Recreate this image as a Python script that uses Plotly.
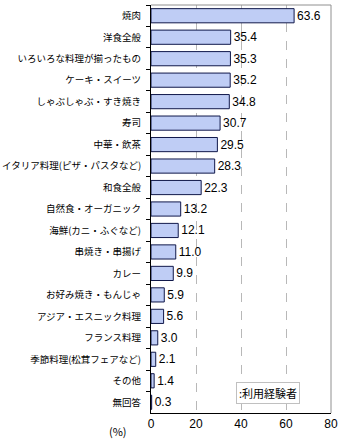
import plotly.graph_objects as go

categories = ["焼肉", "洋食全般", "いろいろな料理が揃ったもの", "ケーキ・スイーツ", "しゃぶしゃぶ・すき焼き",
              "寿司", "中華・飲茶", "イタリア料理(ピザ・パスタなど)", "和食全般", "自然食・オーガニック",
              "海鮮(カニ・ふぐなど)", "串焼き・串揚げ", "カレー", "お好み焼き・もんじゃ", "アジア・エスニック料理",
              "フランス料理", "季節料理(松茸フェアなど)", "その他", "無回答"]
values = [63.6, 35.4, 35.3, 35.2, 34.8, 30.7, 29.5, 28.3, 22.3, 13.2,
          12.1, 11.0, 9.9, 5.9, 5.6, 3.0, 2.1, 1.4, 0.3]
x_ticks = [0, 20, 40, 60, 80]
legend_text = ":利用経験者"

jp_font = "Noto Sans CJK JP"
num_font = "Liberation Sans"

fig = go.Figure()
fig.add_trace(go.Bar(
    y=categories, x=values, orientation="h",
    marker=dict(color="#bfcdf5", line=dict(color="#10184a", width=1)),
    width=0.66,
    text=[f"{v:.1f}" for v in values], textposition="outside",
    textfont=dict(family=num_font, size=12, color="#000000"),
    cliponaxis=False,
    showlegend=False,
))

fig.update_layout(
    width=340, height=443,
    margin=dict(l=151, r=9, t=5, b=30, autoexpand=False),
    paper_bgcolor="white", plot_bgcolor="white",
    xaxis=dict(range=[0, 80], tickvals=x_ticks, showgrid=True,
               gridcolor="#b8b8b8", griddash="dash", gridwidth=1,
               showline=True, linecolor="#000000", linewidth=1,
               ticks="", zeroline=False, automargin=False,
               tickfont=dict(family=num_font, size=12, color="#000000")),
    yaxis=dict(autorange="reversed", showline=True, linecolor="#000000", linewidth=1,
               ticks="outside", tickson="boundaries", ticklen=4, tickcolor="#000000",
               ticklabelstandoff=7, automargin=False,
               tickfont=dict(family=jp_font, size=9.5, color="#000000"),
               showgrid=False),
    shapes=[
        dict(type="line", xref="paper", yref="paper", x0=0, x1=1, y0=1, y1=1,
             line=dict(color="#909090", width=1)),
        dict(type="line", xref="paper", yref="paper", x0=1, x1=1, y0=0, y1=1,
             line=dict(color="#909090", width=1)),
    ],
    annotations=[
        dict(text=legend_text, xref="paper", yref="paper", x=0.47, y=0.05,
             xanchor="left", yanchor="middle", showarrow=False,
             font=dict(family=jp_font, size=11, color="#000000"),
             bordercolor="#c0c0c0", borderwidth=1, borderpad=2, bgcolor="white"),
        dict(text="(%)", xref="paper", yref="paper", x=-0.12, y=0, yshift=-18,
             xanchor="right", yanchor="middle", showarrow=False,
             font=dict(family=jp_font, size=11, color="#000000")),
    ],
)

fig.write_html("out.html")
